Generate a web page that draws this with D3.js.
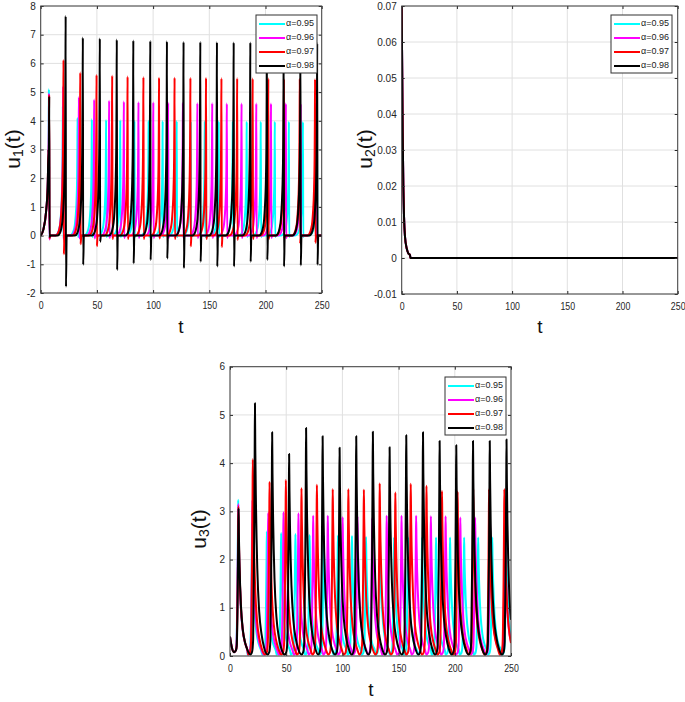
<!DOCTYPE html>
<html><head><meta charset="utf-8">
<script src="https://cdn.jsdelivr.net/npm/d3@7/dist/d3.min.js"></script>
<style>
body{margin:0;background:#fff}
svg{display:block}
text{font-family:"Liberation Sans",Arial,Helvetica,sans-serif}
</style>
</head><body>
<svg id="c" width="685" height="702"></svg>
<script>
// ---------------- data ----------------
const seriesNames = ["α=0.95", "α=0.96", "α=0.97", "α=0.98"];
const seriesColors = ["#00ffff", "#ff00ff", "#ff0000", "#000000"];

const xTicks = [0, 50, 100, 150, 200, 250];
const u1Ticks = [-2, -1, 0, 1, 2, 3, 4, 5, 6, 7, 8];
const u2Ticks = [-0.01, 0, 0.01, 0.02, 0.03, 0.04, 0.05, 0.06, 0.07];
const u3Ticks = [0, 1, 2, 3, 4, 5, 6];

// spike (peak) times per series
const peakT95 = [7.3, 19.7, 32.8, 45.5, 58.2, 70.8, 83.4, 96.0, 108.5, 121.0, 133.5, 146.0, 158.4, 170.9, 183.3, 195.8, 208.3, 220.8, 233.3, 245.8];
const peakT96 = [7.4, 20.0, 34.0, 47.6, 60.9, 74.0, 87.0, 100.2, 113.4, 126.5, 139.4, 152.6, 165.6, 178.7, 191.8, 204.9, 218.1, 231.3, 244.5];
const peakT97 = [7.5, 20.3, 35.2, 49.7, 63.6, 77.3, 91.4, 105.3, 119.1, 133.2, 147.1, 160.8, 174.8, 188.6, 202.5, 216.4, 230.5, 244.1];
const peakT98 = [7.6, 22.2, 37.5, 52.6, 67.7, 82.4, 97.5, 112.3, 127.1, 142.0, 156.8, 171.7, 186.5, 201.3, 216.2, 231.1, 246.0];

// u1 peak heights and post-spike minima
const u1Peak95 = [5.1, 4.5, 4.1, 4.05, 4.03, 4.02, 4.0, 4.0, 3.99, 3.99, 3.98, 3.98, 3.98, 3.97, 3.97, 3.97, 3.97, 3.97, 3.96, 3.96];
const u1Peak96 = [4.95, 5.2, 4.82, 4.74, 4.7, 4.67, 4.65, 4.64, 4.63, 4.62, 4.61, 4.61, 4.6, 4.6, 4.6, 4.6, 4.6, 4.6, 4.6];
const u1Peak97 = [4.9, 6.12, 5.68, 5.6, 5.57, 5.54, 5.52, 5.5, 5.5, 5.49, 5.49, 5.48, 5.48, 5.47, 5.47, 5.46, 5.46, 5.45];
const u1Peak98 = [4.85, 7.65, 6.9, 6.87, 6.83, 6.8, 6.78, 6.77, 6.75, 6.75, 6.74, 6.73, 6.73, 6.72, 6.71, 6.71, 6.7];
const u1Min95 = [-0.08, -0.06, -0.05, -0.05, -0.05, -0.05, -0.05, -0.05, -0.05, -0.05, -0.05, -0.05, -0.05, -0.05, -0.05, -0.05, -0.05, -0.05, -0.05, -0.05];
const u1Min96 = [-0.14, -0.12, -0.1, -0.1, -0.08, -0.08, -0.08, -0.08, -0.08, -0.08, -0.08, -0.08, -0.08, -0.08, -0.08, -0.08, -0.08, -0.08, -0.08];
const u1Min97 = [-0.1, -0.65, -0.3, -0.37, -0.12, -0.12, -0.12, -0.1, -0.12, -0.38, -0.12, -0.4, -0.15, -0.12, -0.12, -0.1, -0.28, -0.25];
const u1Min98 = [-0.05, -1.78, -1.02, -0.21, -1.2, -0.97, -0.85, -0.8, -1.14, -0.91, -1.08, -1.08, -0.91, -0.85, -1.08, -1.04, -1.02];
// start of u1 (shared by all series) and spike rise shape (time offset, fraction of peak)
const u1LeadT = [0, 2.3, 4.7, 6.2, 7.0];
const u1LeadU = [0, 0.2, 0.8, 1.7, 3.0];
const u1RiseDt = [-7, -5, -3.6, -2.5, -1.8, -0.9, -0.4, -0.15, 0];
const u1RiseF = [0, 0.012, 0.04, 0.085, 0.15, 0.3, 0.5, 0.75, 1];

// u2 (identical for all series)
const u2T = [0, 0.9, 1.5, 2.1, 3, 4.5, 6, 7.5, 8, 250];
const u2U = [0.07, 0.0346, 0.0198, 0.0115, 0.0059, 0.0027, 0.0013, 0.0008, 0, 0];

// u3 peak heights
const u3Peak95 = [3.24, 2.75, 2.58, 2.55, 2.53, 2.51, 2.5, 2.5, 2.49, 2.47, 2.47, 2.46, 2.46, 2.46, 2.46, 2.46, 2.46, 2.46, 2.46, 2.46];
const u3Peak96 = [3.15, 3.24, 2.97, 2.98, 2.96, 2.91, 2.91, 2.88, 2.9, 2.86, 2.91, 2.91, 2.91, 2.9, 2.9, 2.87, 2.87, 2.88, 2.88];
const u3Peak97 = [3.1, 4.08, 3.61, 3.65, 3.48, 3.55, 3.46, 3.46, 3.45, 3.58, 3.39, 3.57, 3.53, 3.42, 3.41, 3.46, 3.46, 3.46];
const u3Peak98 = [3.06, 5.24, 4.64, 4.19, 4.73, 4.56, 4.32, 4.56, 4.65, 4.33, 4.58, 4.64, 4.46, 4.37, 4.46, 4.46, 4.49];
const u3End = [0.4, 0.3, 0.27, 0.75];
const u3LeadT = [0, 1.5, 3.6, 5.3];
const u3LeadU = [0.4, 0.19, 0.08, 0.12];
const u3Base = 0.03;
const u3Dt = [-4, -2.5, -1.6, -0.7, -0.25, 0, 0.3, 0.9, 2.1, 3.8, 5.9, 8];
const u3F = [0, 0.012, 0.06, 0.45, 0.8, 1, 0.82, 0.6, 0.34, 0.17, 0.08, 0.03];

// ---------------- build series ----------------
const peakTs = [peakT95, peakT96, peakT97, peakT98];
const u1Peaks = [u1Peak95, u1Peak96, u1Peak97, u1Peak98];
const u1Mins = [u1Min95, u1Min96, u1Min97, u1Min98];
const u3Peaks = [u3Peak95, u3Peak96, u3Peak97, u3Peak98];

function buildU1(s) {
  const pts = u1LeadT.map((t, i) => [t, u1LeadU[i]]);
  peakTs[s].forEach((tp, i) => {
    u1RiseDt.forEach((dt, k) => {
      const t = tp + dt;
      if (t > pts[pts.length - 1][0]) pts.push([t, u1RiseF[k] * u1Peaks[s][i]]);
    });
    pts.push([tp + 0.3, u1Mins[s][i]]);
    pts.push([tp + 0.9, 0]);
  });
  const out = pts.filter(p => p[0] < 250);
  out.push([250, 0]);
  return out;
}
function buildU3(s) {
  const pts = u3LeadT.map((t, i) => [t, u3LeadU[i]]);
  peakTs[s].forEach((tp, i) => {
    u3Dt.forEach((dt, k) => {
      const t = tp + dt;
      if (t > pts[pts.length - 1][0] && t < 250) pts.push([t, u3Base + u3F[k] * (u3Peaks[s][i] - u3Base)]);
    });
  });
  pts.push([250, u3End[s]]);
  return pts;
}
const u2Pts = u2T.map((t, i) => [t, u2U[i]]);

// ---------------- drawing ----------------
const svg = d3.select("#c");

const panels = [
  { id: "p1", xr: [40.7, 321.7], yr: [293, 6], dom: [-2, 8], ticks: u1Ticks, fmt: d => String(d),
    sub: "1", lab: [14, 149], tlab: [181, 328], data: [0,1,2,3].map(buildU1), leg: [256, 15] },
  { id: "p2", xr: [401.7, 677.7], yr: [294, 6], dom: [-0.01, 0.07], ticks: u2Ticks, fmt: d => (Math.abs(d) < 1e-9 ? "0" : d.toFixed(2)),
    sub: "2", lab: [366, 149], tlab: [540, 328], data: [0,1,2,3].map(() => u2Pts), leg: [611, 15] },
  { id: "p3", xr: [230, 511], yr: [656, 366.7], dom: [0, 6], ticks: u3Ticks, fmt: d => String(d),
    sub: "3", lab: [200, 529], tlab: [371, 691], data: [0,1,2,3].map(buildU3), leg: [445, 377] }
];

panels.forEach(p => {
  const x = d3.scaleLinear().domain([0, 250]).range(p.xr);
  const y = d3.scaleLinear().domain(p.dom).range(p.yr);
  const g = svg.append("g");
  const w = p.xr[1] - p.xr[0], h = p.yr[0] - p.yr[1];

  g.append("clipPath").attr("id", "clip" + p.id)
    .append("rect").attr("x", p.xr[0]).attr("y", p.yr[1]).attr("width", w).attr("height", h);

  // grid
  const grid = g.append("g").attr("stroke", "#e0e0e0").attr("stroke-width", 1);
  xTicks.forEach(t => grid.append("line").attr("x1", x(t)).attr("x2", x(t)).attr("y1", p.yr[1]).attr("y2", p.yr[0]));
  p.ticks.forEach(t => grid.append("line").attr("x1", p.xr[0]).attr("x2", p.xr[1]).attr("y1", y(t)).attr("y2", y(t)));

  // lines
  const line = d3.line().x(d => x(d[0])).y(d => y(d[1])).curve(d3.curveMonotoneX);
  const lg = g.append("g").attr("clip-path", `url(#clip${p.id})`);
  p.data.forEach((pts, s) => {
    lg.append("path").attr("d", line(pts)).attr("fill", "none")
      .attr("stroke", seriesColors[s]).attr("stroke-width", 2).attr("stroke-linejoin", "round");
  });

  // axes
  const axB = d3.axisBottom(x).tickValues(xTicks).tickSize(-3).tickPadding(9).tickFormat(d => String(d));
  const axT = d3.axisTop(x).tickValues(xTicks).tickSize(-3).tickFormat("");
  const axL = d3.axisLeft(y).tickValues(p.ticks).tickSize(-3).tickPadding(5).tickFormat(p.fmt);
  const axR = d3.axisRight(y).tickValues(p.ticks).tickSize(-3).tickFormat("");
  const style = sel => {
    sel.select(".domain").remove();
    sel.selectAll("line").attr("stroke", "#262626");
    sel.selectAll("text").attr("font-size", 10).attr("fill", "#262626")
      .attr("font-family", '"Liberation Sans",Arial,sans-serif');
  };
  g.append("g").attr("transform", `translate(0,${p.yr[0]})`).call(axB).call(style)
    .selectAll("text").attr("transform", "scale(0.88,1)");
  g.append("g").attr("transform", `translate(0,${p.yr[1]})`).call(axT).call(style);
  g.append("g").attr("transform", `translate(${p.xr[0]},0)`).call(axL).call(style);
  g.append("g").attr("transform", `translate(${p.xr[1]},0)`).call(axR).call(style);
  g.append("rect").attr("x", p.xr[0]).attr("y", p.yr[1]).attr("width", w).attr("height", h)
    .attr("fill", "none").attr("stroke", "#404040").attr("stroke-width", 1);

  // axis labels
  g.append("text").attr("x", p.tlab[0]).attr("y", p.tlab[1]).attr("text-anchor", "middle")
    .attr("dominant-baseline", "middle").attr("font-size", 19).attr("fill", "#111").text("t");
  const yl = g.append("text").attr("transform", `translate(${p.lab[0]},${p.lab[1]}) rotate(-90)`)
    .attr("text-anchor", "middle").attr("dominant-baseline", "middle").attr("font-size", 21).attr("fill", "#111");
  yl.append("tspan").text("u");
  yl.append("tspan").attr("font-size", 14).attr("dy", 5).text(p.sub);
  yl.append("tspan").attr("dy", -5).text("(t)");

  // legend
  const [lx, ly] = p.leg;
  const leg = g.append("g");
  leg.append("rect").attr("x", lx).attr("y", ly).attr("width", 61).attr("height", 58)
    .attr("fill", "#fff").attr("stroke", "#333").attr("stroke-width", 1);
  seriesNames.forEach((name, s) => {
    const ry = ly + 9 + s * 14;
    leg.append("line").attr("x1", lx + 3).attr("x2", lx + 29).attr("y1", ry).attr("y2", ry)
      .attr("stroke", seriesColors[s]).attr("stroke-width", 2);
    leg.append("text").attr("x", lx + 30).attr("y", ry).attr("dominant-baseline", "middle")
      .attr("font-size", 9).attr("fill", "#222").text(name);
  });
});
</script>
</body></html>
